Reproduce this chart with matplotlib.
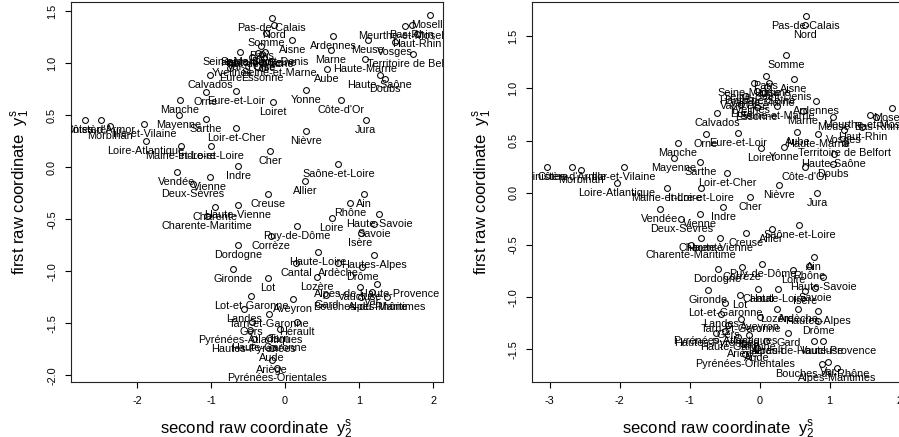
import matplotlib
matplotlib.use("Agg")
import matplotlib.pyplot as plt

plt.rcParams['font.family'] = ['Liberation Sans', 'DejaVu Sans']
plt.rcParams['axes.unicode_minus'] = False
plt.rcParams['mathtext.fontset'] = 'custom'
plt.rcParams['mathtext.rm'] = 'Liberation Sans'
plt.rcParams['mathtext.it'] = 'Liberation Sans:italic'

departments = [
    "Pas-de-Calais", "Nord", "Somme", "Aisne", "Ardennes", "Marne", "Meuse",
    "Meurthe-et-Moselle", "Bas-Rhin", "Moselle", "Haut-Rhin", "Vosges",
    "Territoire de Belfort", "Haute-Marne", "Haute-Saône", "Doubs", "Aube",
    "Yonne", "Côte-d'Or", "Jura", "Nièvre", "Loiret", "Eure-et-Loir", "Orne",
    "Calvados", "Manche", "Mayenne", "Sarthe", "Loir-et-Cher", "Cher", "Indre",
    "Indre-et-Loire", "Maine-et-Loire", "Loire-Atlantique", "Ille-et-Vilaine",
    "Morbihan", "Côtes-d'Armor", "Finistère", "Vendée", "Vienne", "Deux-Sèvres",
    "Charente", "Charente-Maritime", "Haute-Vienne", "Creuse", "Allier",
    "Saône-et-Loire", "Ain", "Rhône", "Haute-Savoie", "Savoie", "Isère", "Loire",
    "Puy-de-Dôme", "Corrèze", "Dordogne", "Haute-Loire", "Cantal", "Hautes-Alpes",
    "Ardèche", "Drôme", "Lozère", "Lot", "Gironde", "Alpes-de-Haute-Provence",
    "Vaucluse", "Var", "Bouches-du-Rhône", "Alpes-Maritimes", "Gard",
    "Lot-et-Garonne", "Aveyron", "Landes", "Tarn-et-Garonne", "Hérault", "Tarn",
    "Gers", "Pyrénées-Atlantiques", "Hautes-Pyrénées", "Haute-Garonne", "Aude",
    "Ariège", "Pyrénées-Orientales", "Seine-Maritime", "Paris",
    "Seine-Saint-Denis", "Hauts-de-Seine", "Val-de-Marne", "Val-d'Oise", "Oise",
    "Seine-et-Marne", "Yvelines", "Eure", "Essonne",
]

# left panel: second raw coordinate (x) and first raw coordinate (y)
left_x = [
    -0.18, -0.15, -0.26, 0.10, 0.65, 0.62, 1.12,
    1.62, 1.71, 1.96, 1.78, 1.48,
    1.73, 1.08, 1.28, 1.35, 0.57,
    0.28, 0.76, 1.09, 0.28, -0.16, -0.66, -1.07,
    -1.01, -1.42, -1.43, -1.07, -0.66, -0.20, -0.63,
    -1.00, -1.41, -1.88, -1.90,
    -2.36, -2.49, -2.70, -1.46, -1.01, -1.24,
    -0.94, -1.06, -0.64, -0.23, 0.27,
    0.72, 1.07, 0.88, 1.27, 1.20, 1.02, 0.63,
    0.16, -0.19, -0.63, 0.44, 0.15, 1.20,
    0.72, 1.04, 0.43, -0.23, -0.70, 1.24,
    1.01, 1.17, 1.02, 1.38, 0.56,
    -0.46, 0.11, -0.55, -0.22, 0.16, -0.07,
    -0.45, -0.47, -0.42, -0.22, -0.18,
    -0.18, -0.11, -0.61, -0.32,
    -0.27, -0.36, -0.31, -0.45, -0.28,
    -0.08, -0.71, -0.74, -0.31,
]
left_y = [
    1.43, 1.37, 1.29, 1.22, 1.26, 1.13, 1.22,
    1.36, 1.37, 1.46, 1.28, 1.20,
    1.09, 1.04, 0.89, 0.85, 0.94,
    0.74, 0.65, 0.45, 0.35, 0.63, 0.73, 0.72,
    0.89, 0.65, 0.50, 0.46, 0.38, 0.16, 0.01,
    0.20, 0.20, 0.25, 0.42,
    0.40, 0.45, 0.45, -0.05, -0.09, -0.16,
    -0.38, -0.47, -0.36, -0.26, -0.13,
    0.03, -0.26, -0.34, -0.45, -0.55, -0.63, -0.49,
    -0.56, -0.66, -0.75, -0.81, -0.92, -0.84,
    -0.92, -0.96, -1.05, -1.06, -0.98, -1.12,
    -1.15, -1.20, -1.25, -1.25, -1.23,
    -1.24, -1.27, -1.36, -1.41, -1.49, -1.55,
    -1.49, -1.56, -1.65, -1.64, -1.74,
    -1.85, -1.93, 1.11, 1.16,
    1.11, 1.10, 1.09, 1.06, 1.05,
    1.00, 1.00, 0.95, 0.95,
]

# right panel
right_x = [
    0.66, 0.65, 0.38, 0.49, 0.81, 0.62, 1.05,
    1.58, 1.67, 1.89, 1.47, 1.20,
    1.22, 0.84, 1.06, 1.05, 0.54,
    0.35, 0.65, 0.82, 0.27, 0.02, -0.31, -0.77,
    -0.61, -1.17, -1.23, -0.85, -0.46, -0.14, -0.52,
    -0.84, -1.33, -2.04, -1.94,
    -2.56, -2.68, -3.04, -1.43, -0.85, -1.12,
    -0.84, -0.98, -0.57, -0.19, 0.17,
    0.57, 0.78, 0.71, 0.91, 0.79, 0.65, 0.48,
    0.04, -0.25, -0.60, 0.26, -0.02, 0.84,
    0.55, 0.84, 0.25, -0.28, -0.74, 0.78,
    0.90, 0.98, 0.89, 1.11, 0.41,
    -0.49, 0.00, -0.55, -0.27, 0.09, -0.15,
    -0.45, -0.49, -0.62, -0.31, -0.04,
    -0.24, -0.21, -0.08, 0.09,
    0.11, -0.04, 0.05, -0.21, 0.14,
    0.25, -0.14, -0.26, -0.04,
]
right_y = [
    1.69, 1.61, 1.32, 1.09, 0.88, 0.78, 0.73,
    0.74, 0.73, 0.81, 0.63, 0.60,
    0.48, 0.56, 0.37, 0.28, 0.58,
    0.44, 0.25, 0.00, 0.07, 0.43, 0.57, 0.56,
    0.76, 0.48, 0.33, 0.29, 0.19, -0.04, -0.14,
    0.05, 0.05, 0.09, 0.25,
    0.22, 0.25, 0.25, -0.16, -0.20, -0.25,
    -0.43, -0.50, -0.43, -0.39, -0.35,
    -0.31, -0.62, -0.70, -0.81, -0.91, -0.94, -0.74,
    -0.68, -0.71, -0.73, -0.92, -0.92, -1.13,
    -1.11, -1.23, -1.11, -0.98, -0.93, -1.42,
    -1.42, -1.62, -1.64, -1.68, -1.34,
    -1.06, -1.19, -1.16, -1.21, -1.42, -1.36,
    -1.27, -1.32, -1.34, -1.38, -1.49,
    -1.45, -1.54, 1.05, 1.12,
    1.01, 0.97, 0.96, 0.93, 1.05,
    0.83, 0.89, 0.85, 0.82,
]

left_xticks = [-2, -1, 0, 1, 2]
left_yticks = [-2.0, -1.5, -1.0, -0.5, 0.0, 0.5, 1.0, 1.5]
right_xticks = [-3, -2, -1, 0, 1, 2]
right_yticks = [-1.5, -1.0, -0.5, 0.0, 0.5, 1.0, 1.5]

W, H = 899, 437
fig = plt.figure(figsize=(W / 100, H / 100), dpi=100)

ax1 = fig.add_axes([71 / W, 1 - 381.7 / H, (442.7 - 71) / W, 380 / H])
ax2 = fig.add_axes([532.3 / W, 1 - 381.7 / H, (903.7 - 532.3) / W, 380 / H])

panels = [
    (ax1, left_x, left_y, (-2.89, 2.13), (-2.06, 1.59), left_xticks, left_yticks),
    (ax2, right_x, right_y, (-3.25, 2.06), (-1.81, 1.83), right_xticks, right_yticks),
]

fs = 7.8
for ax, xs, ys, xl, yl, xt, yt in panels:
    ax.plot(xs, ys, linestyle='none', marker='o', markersize=4.2,
            markerfacecolor='none', markeredgecolor='black', markeredgewidth=0.75)
    for name, x, y in zip(departments, xs, ys):
        ax.annotate(name, (x, y), xytext=(0, -7.2), textcoords='offset points',
                    ha='center', va='center', fontsize=fs, color='black',
                    clip_on=True)
    ax.set_xlim(*xl)
    ax.set_ylim(*yl)
    ax.set_xticks(xt)
    ax.set_xticklabels([str(v) for v in xt])
    ax.set_yticks(yt)
    ax.set_yticklabels([f"{v:.1f}" for v in yt])
    ax.tick_params(direction='out', length=4, width=0.8, labelsize=fs, pad=6,
                   colors='black')
    for lab in ax.get_yticklabels():
        lab.set_rotation(90)
        lab.set_va('center')
    for sp in ax.spines.values():
        sp.set_linewidth(0.8)
        sp.set_color('#222222')

xlab = r'second raw coordinate  $\mathrm{y}_{\mathrm{2}}^{\mathrm{s}}$'
ylab = r'first raw coordinate  $\mathrm{y}_{\mathrm{1}}^{\mathrm{s}}$'
fig.text((71 + 442.7) / 2 / W, 1 - 430 / H, xlab, ha='center', va='center', fontsize=12)
fig.text(718 / W, 1 - 430 / H, xlab, ha='center', va='center', fontsize=12)
fig.text(21 / W, 1 - 191.7 / H, ylab, ha='center', va='center', fontsize=12, rotation=90)
fig.text(482.5 / W, 1 - 191.7 / H, ylab, ha='center', va='center', fontsize=12, rotation=90)

fig.savefig("out.png", dpi=100, facecolor='white')
